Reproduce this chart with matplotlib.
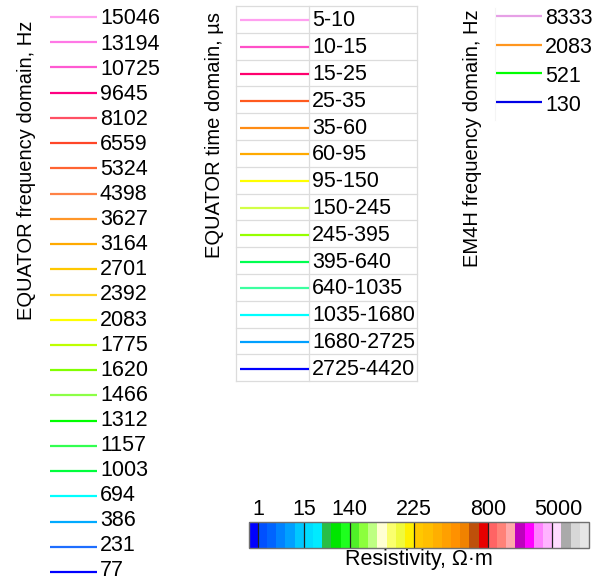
import numpy as np
import matplotlib
matplotlib.use("Agg")
from matplotlib import pyplot as plt
from matplotlib.colors import ListedColormap, BoundaryNorm
from matplotlib.cm import ScalarMappable

plt.rcParams['font.family'] = ['Liberation Sans', 'DejaVu Sans']

# EQUATOR frequency domain, Hz
eq_freq_labels = ["15046", "13194", "10725", "9645", "8102", "6559", "5324", "4398",
                  "3627", "3164", "2701", "2392", "2083", "1775", "1620", "1466",
                  "1312", "1157", "1003", "694", "386", "231", "77"]
eq_freq_colors = ["#ffa0f0", "#ff78e6", "#ff5ad2", "#ff0082", "#ff5064", "#ff4628",
                  "#ff6432", "#ff8246", "#ff9628", "#ffaa00", "#ffc800", "#ffd21e",
                  "#ffff00", "#beff00", "#82ff00", "#8cff46", "#00ff00", "#32ff50",
                  "#00ff3c", "#00ffff", "#00aaff", "#1e6eff", "#0000ff"]

# EQUATOR time domain, us
eq_time_labels = ["5-10", "10-15", "15-25", "25-35", "35-60", "60-95", "95-150",
                  "150-245", "245-395", "395-640", "640-1035", "1035-1680",
                  "1680-2725", "2725-4420"]
eq_time_colors = ["#ffa0f0", "#ff50c8", "#ff006e", "#ff5a1e", "#ff8c14", "#ffaa00",
                  "#ffff00", "#d2ff46", "#96ff00", "#00ff50", "#3cffa0", "#00ffff",
                  "#00a0ff", "#0000ff"]

# EM4H frequency domain, Hz
em4h_labels = ["8333", "2083", "521", "130"]
em4h_colors = ["#e6a0e6", "#ff961e", "#00ff00", "#0000e6"]

# resistivity scale cells
res_colors = ["#0000ff", "#0050ff", "#0064ff", "#0082ff", "#00a0ff", "#00c8ff",
              "#00dcff", "#00ebff", "#28be46", "#00e600", "#1eff1e", "#50f028",
              "#8cff3c", "#beff82", "#ffffd2", "#faff6e", "#f0fa3c", "#fff000",
              "#ffc800", "#ffbe00", "#ffaf00", "#ffa000", "#ff9100", "#f08200",
              "#be500a", "#e60000", "#ff6464", "#ff8278", "#ffaaaa", "#be00be",
              "#ff00ff", "#ff82ff", "#ffb4ff", "#ffdcff", "#aaaaaa", "#d7d7d7",
              "#e6e6e6"]
res_tick_pos = [1, 6, 11, 18, 26, 33.7]
res_tick_labels = ["1", "15", "140", "225", "800", "5000"]
res_dividers = [1, 6, 11, 18, 26, 33]

W, H = 599, 579
fs = 15.5      # entry labels
fs_title = 14.5  # rotated group titles
fig = plt.figure(figsize=(W / 100, H / 100), dpi=100)
ax = fig.add_axes([0, 0, 1, 1])
ax.set_xlim(0, W)
ax.set_ylim(H, 0)
ax.axis('off')

# left legend (text rows are spaced a touch tighter than the lines)
for i, (lab, col) in enumerate(zip(eq_freq_labels, eq_freq_colors)):
    y = 17 + i * 25.23
    ax.plot([50, 97], [y, y], color=col, lw=1.6, solid_capstyle='butt')
    ax.text(100, 19 + i * 25.09, lab, fontsize=fs, ha='left', va='center')
ax.text(27, 170, "EQUATOR frequency domain, Hz", fontsize=fs_title, rotation=90,
        ha='center', va='center')

# middle legend as a table
top, rh = 6, 26.8
x0, xc, x1 = 236, 309, 417
n = len(eq_time_labels)
for k in range(n + 1):
    ax.plot([x0, x1], [top + k * rh] * 2, color='#dcdcdc', lw=0.9)
for xv in (x0, xc, x1):
    ax.plot([xv, xv], [top, top + n * rh], color='#dcdcdc', lw=0.9)
for i, (lab, col) in enumerate(zip(eq_time_labels, eq_time_colors)):
    y = top + (i + 0.5) * rh + 1
    ax.plot([240, xc], [y, y], color=col, lw=1.6, solid_capstyle='butt')
    ax.text(xc + 3, y + 0.5, lab, fontsize=fs, ha='left', va='center')
ax.text(215, 135, "EQUATOR time domain, \u00b5s", fontsize=fs_title, rotation=90,
        ha='center', va='center')

# right legend
ax.plot([495, 495], [8, 120], color='#f4f4f4', lw=0.8)
for i, (lab, col) in enumerate(zip(em4h_labels, em4h_colors)):
    y = 16 + i * 28.7
    ax.plot([496, 542], [y, y], color=col, lw=1.6, solid_capstyle='butt')
    ax.text(545, y + 3, lab, fontsize=fs, ha='left', va='center')
ax.text(473, 138, "EM4H frequency domain, Hz", fontsize=fs_title, rotation=90,
        ha='center', va='center')

# resistivity colorbar
bl, br, bt, bb = 248.7, 589, 521.5, 548
cax = fig.add_axes([bl / W, (H - bb) / H, (br - bl) / W, (bb - bt) / H])
ncell = len(res_colors)
cmap = ListedColormap(res_colors)
norm = BoundaryNorm(np.arange(ncell + 1), ncell)
cb = fig.colorbar(ScalarMappable(norm=norm, cmap=cmap), cax=cax,
                  orientation='horizontal')
cb.outline.set_edgecolor('#707070')
cb.outline.set_linewidth(1.0)
for d in res_dividers:
    cax.axvline(d, color='#202020', lw=0.9)
cax.xaxis.set_ticks_position('top')
cax.set_xticks(res_tick_pos)
cax.set_xticklabels(res_tick_labels, fontsize=fs)
cax.tick_params(axis='x', length=0, pad=1)
cax.minorticks_off()
ax.text((bl + br) / 2, 560, "Resistivity, \u03a9\u00b7m", fontsize=fs,
        ha='center', va='center')

fig.savefig("out.png", dpi=100)
